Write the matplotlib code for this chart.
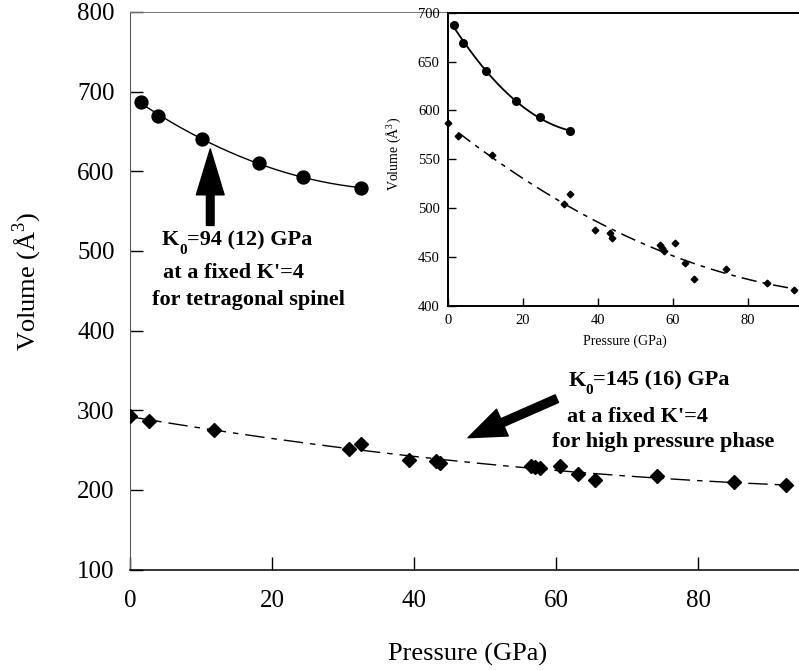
import numpy as np
import matplotlib
matplotlib.use("Agg")
import matplotlib.pyplot as plt

plt.rcParams['font.family'] = ['Liberation Serif', 'DejaVu Serif']
plt.rcParams['mathtext.fontset'] = 'custom'
plt.rcParams['mathtext.rm'] = 'Liberation Serif'
plt.rcParams['mathtext.bf'] = 'Liberation Serif:bold'

# tetragonal spinel (low pressure phase)
p_spinel = [1.6, 4.0, 10.2, 18.1, 24.4, 32.5]
v_spinel = [687, 669, 640, 610, 593, 579]

# high pressure phase, as plotted in the main panel
p_hp = [0.0, 2.7, 11.8, 30.8, 32.5, 39.3, 43.1, 43.6, 56.5, 57.0, 57.7,
        60.6, 63.1, 65.5, 74.2, 85.1, 92.3]
v_hp_main = [292.5, 286.5, 275.5, 251.7, 257.1, 237.8, 236.5, 234.0, 230.5,
             229.0, 227.5, 229.8, 220.3, 211.8, 217.2, 209.7, 205.5]
# high pressure phase, as plotted in the inset
v_hp_inset = [587, 574, 554, 504, 515, 478, 475, 470, 462, 459, 456,
              464, 444, 428, 438, 424, 416]

main_yticks = [100, 200, 300, 400, 500, 600, 700, 800]
main_xticks = [0, 20, 40, 60, 80]
inset_yticks = [400, 450, 500, 550, 600, 650, 700]
inset_xticks = [0, 20, 40, 60, 80]

W, H = 799, 670
fig = plt.figure(figsize=(W / 100, H / 100), dpi=100)

# quadratic fits used for the guide curves
fit_sp = np.polyfit(p_spinel, v_spinel, 2)
fit_hp_main = np.polyfit(p_hp, v_hp_main, 2)
fit_hp_inset = np.polyfit(p_hp, v_hp_inset, 2)


def k0_label(ax, x, y, value):
    # K with a well-dropped bold subscript 0, then the rest of the line
    t = ax.text(x, y, 'K', fontsize=16, fontweight='bold',
                ha='left', va='baseline')
    fig.canvas.draw()
    bb = t.get_window_extent()
    x0, y0 = ax.transData.transform((x, y))
    sub = ax.annotate('0', xy=(bb.x1, y0), xycoords='figure pixels',
                      xytext=(0, -6), textcoords='offset points',
                      fontsize=11, fontweight='bold', ha='left', va='baseline')
    fig.canvas.draw()
    bb2 = sub.get_window_extent()
    ax.annotate(value, xy=(bb2.x1, y0), xycoords='figure pixels',
                fontsize=16, fontweight='bold', ha='left', va='baseline')


# ---- main panel ----
ax = fig.add_axes([130 / W, (H - 569.5) / H, 1 - 130 / W, (569.5 - 12) / H])
ax.set_xlim(0, 94.2)
ax.set_ylim(100, 800)

pp = np.linspace(p_spinel[0], p_spinel[-1], 200)
ax.plot(pp, np.polyval(fit_sp, pp), color='black', lw=1.0)
ax.plot(p_spinel, v_spinel, 'o', color='black', ms=9.3, zorder=3)

ph = np.linspace(0, 92.5, 300)
ax.plot(ph, np.polyval(fit_hp_main, ph), color='black', lw=1.0,
        dashes=(14, 5, 4, 5))
ax.plot(p_hp, v_hp_main, 'D', color='black', ms=7, zorder=3)

ax.set_xticks(main_xticks)
ax.set_yticks(main_yticks)
ax.tick_params(direction='in', length=9.5, width=1, labelsize=18)
ax.tick_params(axis='x', pad=15)
ax.tick_params(axis='y', pad=11)
ax.spines['right'].set_visible(False)
ax.spines['top'].set_color('0.45')
ax.spines['top'].set_linewidth(0.7)
ax.spines['left'].set_color('0.35')
ax.spines['bottom'].set_linewidth(1.1)

ax.set_xlabel('Pressure (GPa)', fontsize=19, va='center')
ax.xaxis.set_label_coords(0.505, -0.153)
ax.set_ylabel(r'Volume (Å$^3$)', fontsize=19, va='center')
ax.yaxis.set_label_coords(-0.154, 0.516)

# annotation for the spinel fit
k0_label(ax, 4.5, 507, '=94 (12) GPa')
ax.text(4.6, 466, "at a fixed K'=4", fontsize=16, fontweight='bold',
        ha='left', va='baseline')
ax.text(3.1, 432, 'for tetragonal spinel', fontsize=16, fontweight='bold',
        ha='left', va='baseline')
ax.annotate('', xy=(11.3, 628), xytext=(11.3, 532),
            arrowprops=dict(arrowstyle='simple,head_length=33,head_width=20,tail_width=5.5',
                            mutation_scale=1, color='black', shrinkA=0, shrinkB=0))

# annotation for the high pressure fit
k0_label(ax, 61.7, 331, '=145 (16) GPa')
ax.text(61.5, 285, "at a fixed K'=4", fontsize=16, fontweight='bold',
        ha='left', va='baseline')
ax.text(59.4, 254, 'for high pressure phase', fontsize=16, fontweight='bold',
        ha='left', va='baseline')
ax.annotate('', xy=(47.6, 265.5), xytext=(60.1, 314.5),
            arrowprops=dict(arrowstyle='simple,head_length=27,head_width=21,tail_width=6',
                            mutation_scale=1, color='black', shrinkA=0, shrinkB=0))

# ---- inset ----
axi = fig.add_axes([448 / W, (H - 306) / H, 1 - 448 / W, (306 - 12.7) / H])
axi.set_xlim(0, 93.6)
axi.set_ylim(400, 700)

pi = np.linspace(1.0, 32.7, 200)
axi.plot(pi, np.polyval(fit_sp, pi), color='black', lw=1.3)
axi.plot(p_spinel, v_spinel, 'o', color='black', ms=5.5, zorder=3)

phi = np.linspace(2.7, 92.3, 300)
axi.plot(phi, np.polyval(fit_hp_inset, phi), color='black', lw=1.1,
         dashes=(10, 4, 3, 4))
axi.plot(p_hp, v_hp_inset, 'D', color='black', ms=3.4, zorder=3,
         clip_on=False)

axi.set_xticks(inset_xticks)
axi.set_yticks(inset_yticks)
axi.tick_params(direction='in', length=5.5, width=1, labelsize=10.5, pad=6)
axi.spines['right'].set_visible(False)
for side in ['left', 'bottom', 'top']:
    axi.spines[side].set_linewidth(1.4)
axi.set_xlabel('Pressure (GPa)', fontsize=10, va='center')
axi.xaxis.set_label_coords(0.504, -0.119)
axi.set_ylabel(r'Volume (Å$^3$)', fontsize=10, va='center')
axi.yaxis.set_label_coords(-0.155, 0.52)

fig.savefig('out.png', dpi=100)
